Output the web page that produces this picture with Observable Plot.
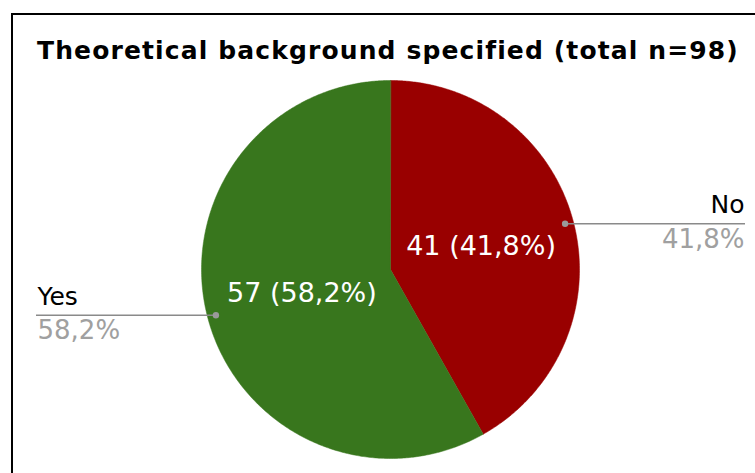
<!DOCTYPE html>
<html>
<head>
<meta charset="utf-8">
<script src="https://cdn.jsdelivr.net/npm/d3@7"></script>
<script src="https://cdn.jsdelivr.net/npm/@observablehq/plot@0.6"></script>
<style>
  html, body { margin: 0; padding: 0; background: #fff; overflow: hidden; width: 755px; height: 473px; }
  #frame { position: absolute; left: 11px; top: 13px; width: 800px; height: 520px; border: 2px solid #000; box-sizing: border-box; }
  #title { position: absolute; left: 37px; top: 38px; font-family: "DejaVu Sans", Verdana, sans-serif; font-weight: bold; font-size: 25px; color: #000; white-space: nowrap; line-height: 1; }
  #chart { position: absolute; left: 0; top: 0; }
</style>
</head>
<body>
<div id="frame"></div>
<div id="title">Theoretical background specified (total n=98)</div>
<div id="chart"></div>
<script>
const categories = ["No", "Yes"];
const counts = [41, 57];
const total = 98;
const percentLabels = ["41,8%", "58,2%"];
const sliceColors = ["#990000", "#38761d"];

const W = 755, H = 473;
const cx = 390, cy = 269, R = 189; // layout (pixels)

const pie = d3.pie().sort(null).value(d => d.count).startAngle(0).endAngle(2 * Math.PI);
const rows = categories.map((c, i) => ({cat: c, count: counts[i], pct: percentLabels[i], color: sliceColors[i]}));
const arcs = pie(rows);

function slicePoints(a) {
  const pts = [{x: 0, y: 0}];
  const n = Math.max(2, Math.ceil((a.endAngle - a.startAngle) / (Math.PI / 360)));
  for (let k = 0; k <= n; k++) {
    const t = a.startAngle + (a.endAngle - a.startAngle) * k / n;
    pts.push({x: Math.sin(t), y: -Math.cos(t)});
  }
  return pts;
}

const info = arcs.map(a => {
  const mid = (a.startAngle + a.endAngle) / 2;
  const right = Math.sin(mid) >= 0;
  return {
    cat: a.data.cat,
    inner: `${a.data.count} (${a.data.pct})`,
    pct: a.data.pct,
    ix: 0.49 * Math.sin(mid), iy: -0.49 * Math.cos(mid),
    dx: 0.955 * Math.sin(mid), dy: -0.955 * Math.cos(mid),
    right,
    ex: right ? (745 - cx) / R : (36 - cx) / R
  };
});
const rightInfo = info.filter(d => d.right);
const leftInfo = info.filter(d => !d.right);

const marks = [];
arcs.forEach(a => {
  marks.push(Plot.line(slicePoints(a), {x: "x", y: "y", fill: a.data.color, stroke: a.data.color, strokeWidth: 0.5, curve: "linear-closed"}));
});
marks.push(Plot.ruleY(info, {y: "dy", x1: "dx", x2: "ex", stroke: "#8a8a8a", strokeWidth: 1.5}));
marks.push(Plot.dot(info, {x: "dx", y: "dy", r: 3.2, fill: "#9a9a9a", stroke: null}));
marks.push(Plot.text(info, {ariaLabel: "inner-labels", x: "ix", y: "iy", text: "inner", fill: "#fff", fontSize: 27, textAnchor: "middle", dx: 1}));
marks.push(Plot.text(rightInfo, {ariaLabel: "names-right", x: "ex", y: "dy", text: "cat", fill: "#000", fontSize: 25, textAnchor: "end", dx: -1, dy: -18.5}));
marks.push(Plot.text(rightInfo, {ariaLabel: "pct-right", x: "ex", y: "dy", text: "pct", fill: "#a0a0a0", fontSize: 26, textAnchor: "end", dx: -1, dy: 15.5}));
marks.push(Plot.text(leftInfo, {ariaLabel: "names-left", x: "ex", y: "dy", text: "cat", fill: "#000", fontSize: 25, textAnchor: "start", dx: 1, dy: -18}));
marks.push(Plot.text(leftInfo, {ariaLabel: "pct-left", x: "ex", y: "dy", text: "pct", fill: "#a0a0a0", fontSize: 26, textAnchor: "start", dx: 1, dy: 15.5}));

const chart = Plot.plot({
  width: W, height: H,
  marginTop: 0, marginRight: 0, marginBottom: 0, marginLeft: 0,
  style: {fontFamily: "'DejaVu Sans', Verdana, sans-serif", background: "transparent", overflow: "visible"},
  x: {domain: [-cx / R, (W - cx) / R], range: [0, W], axis: null},
  y: {domain: [-cy / R, (H - cy) / R], range: [0, H], axis: null},
  marks
});
const spacing = {"inner-labels": "2px", "names-right": "0.5px", "pct-right": "1px", "names-left": "0.8px", "pct-left": "1px"};
for (const [k, v] of Object.entries(spacing)) {
  chart.querySelectorAll(`g[aria-label="${k}"] text`).forEach(t => t.style.letterSpacing = v);
}
document.getElementById("chart").appendChild(chart);

// widen title letter spacing to the reference width
const title = document.getElementById("title");
const tw = title.getBoundingClientRect().width;
const n = title.textContent.length;
title.style.letterSpacing = `${Math.max(0, (701 - tw) / n)}px`;
</script>
</body>
</html>
